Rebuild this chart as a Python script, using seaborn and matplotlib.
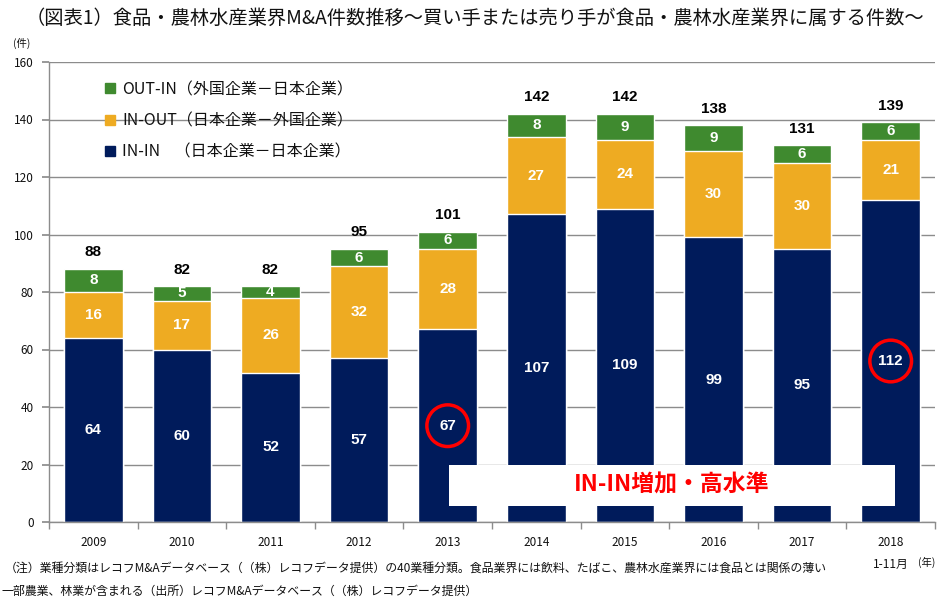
import matplotlib
matplotlib.use('Agg')
import matplotlib.pyplot as plt
import seaborn as sns
import pandas as pd
import numpy as np
from matplotlib.lines import Line2D
from matplotlib.patches import Rectangle

# ---- data ----
years = ['2009', '2010', '2011', '2012', '2013', '2014', '2015', '2016', '2017', '2018']
tick_labels = ['2009', '2010', '2011', '2012', '2013', '2014', '2015', '2016', '2017', '2018\n1-11月']
in_in = [64, 60, 52, 57, 67, 107, 109, 99, 95, 112]
in_out = [16, 17, 26, 32, 28, 27, 24, 30, 30, 21]
out_in = [8, 5, 4, 6, 6, 8, 9, 9, 6, 6]
highlight_years = ['2013', '2018']
series_names = ['OUT-IN（外国企業－日本企業）', 'IN-OUT（日本企業－外国企業）', 'IN-IN    （日本企業－日本企業）']

NAVY = '#001B5B'
ORANGE = '#EEAB22'
GREEN = '#3F8A2F'
GRID = '#8C8C8C'

sns.set_theme(style='white')
plt.rcParams['font.family'] = ['Noto Sans CJK JP', 'DejaVu Sans']

df = pd.DataFrame({'year': years, 'in_in': in_in, 'in_out': in_out, 'out_in': out_in})
df['lvl2'] = df['in_in'] + df['in_out']
df['total'] = df['lvl2'] + df['out_in']

fig = plt.figure(figsize=(9.4, 6.03), dpi=100)
ax = fig.add_axes([49/940, 1-522/603, 886/940, 460/603])

bw = 0.66
sns.barplot(data=df, x='year', y='total', color=GREEN, width=bw, saturation=1, ax=ax, zorder=2)
sns.barplot(data=df, x='year', y='lvl2', color=ORANGE, width=bw, saturation=1, ax=ax, zorder=2)
sns.barplot(data=df, x='year', y='in_in', color=NAVY, width=bw, saturation=1, ax=ax, zorder=2)

ax.set_xlim(-0.5, len(years) - 0.5)
ax.set_ylim(0, 160)
ax.set_yticks(np.arange(0, 161, 20))
ax.set_axisbelow(True)
ax.yaxis.grid(True, color=GRID, linewidth=1)
ax.xaxis.grid(False)
ax.set_xlabel('')
ax.set_ylabel('')
for s in ['top', 'right']:
    ax.spines[s].set_visible(False)
for s in ['left', 'bottom']:
    ax.spines[s].set_color(GRID)
    ax.spines[s].set_linewidth(1)

ax.set_xticks(range(len(years)))
ax.set_xticklabels(tick_labels, fontsize=8.5, color='#111111', linespacing=1.9)
ax.set_xticks(np.arange(-0.5, len(years)), minor=True)
ax.tick_params(axis='x', which='major', length=0, pad=10)
ax.tick_params(axis='x', which='minor', length=5, color=GRID, direction='out', bottom=True)
ax.tick_params(axis='y', length=5, color=GRID, direction='out', left=True, labelsize=8.5, labelcolor='#111111', pad=6)

# value labels
num_font = dict(family=['Liberation Sans', 'DejaVu Sans'], fontweight='bold', fontsize=11)
for i in range(len(years)):
    ax.text(i, df['in_in'][i] / 2, str(in_in[i]), ha='center', va='center', color='white', **num_font, zorder=4)
    ax.text(i, df['in_in'][i] + in_out[i] / 2, str(in_out[i]), ha='center', va='center', color='white', **num_font, zorder=4)
    ax.text(i, df['lvl2'][i] + out_in[i] / 2, str(out_in[i]), ha='center', va='center', color='white', **num_font, zorder=4)
    ax.annotate(str(df['total'][i]), (i, df['total'][i]), xytext=(0, 7), textcoords='offset points',
                ha='center', va='bottom', color='black', **num_font)

# highlight circles
for y in highlight_years:
    i = years.index(y)
    ax.scatter([i], [in_in[i] / 2], s=900, facecolors='none', edgecolors='#FF0000', linewidths=2.5, zorder=5)

# white annotation box
box_x0, box_w, box_y0, box_h = 4.015, 5.035, 5.6, 14.2
ax.add_patch(Rectangle((box_x0, box_y0), box_w, box_h, facecolor='white', edgecolor='none', zorder=6))
ax.text(box_x0 + box_w / 2, box_y0 + box_h / 2, 'IN-IN増加・高水準', ha='center', va='center', color='#FF0000',
        fontsize=16.5, fontweight='bold', zorder=7)

# legend
handles = [Line2D([0], [0], marker='s', linestyle='none', markersize=7, markerfacecolor=c, markeredgecolor=c)
           for c in [GREEN, ORANGE, NAVY]]
leg = ax.legend(handles, series_names, loc='upper left', bbox_to_anchor=(0.045, 0.99), frameon=False,
                fontsize=11.5, labelspacing=0.9, handlelength=0.8, handletextpad=0.4)
for t in leg.get_texts():
    t.set_color('#111111')

# texts
fig.text(0.505, 1 - 18/603, '（図表1）食品・農林水産業界M&A件数推移～買い手または売り手が食品・農林水産業界に属する件数～',
         ha='center', va='center', fontsize=13.9, color='#111111')
fig.text(22/940, 1 - 43/603, '(件)', ha='center', va='center', fontsize=7.5, color='#111111')
fig.text(927/940, 1 - 562/603, '(年)', ha='center', va='center', fontsize=7.5, color='#111111')
fig.text(5/940, 1 - 568/603,
         '（注）業種分類はレコフM&Aデータベース（（株）レコフデータ提供）の40業種分類。食品業界には飲料、たばこ、農林水産業界には食品とは関係の薄い',
         ha='left', va='center', fontsize=8.6, color='#111111')
fig.text(1/940, 1 - 591/603, '一部農業、林業が含まれる（出所）レコフM&Aデータベース（（株）レコフデータ提供）',
         ha='left', va='center', fontsize=8.6, color='#111111')

fig.savefig('out.png', dpi=100)
